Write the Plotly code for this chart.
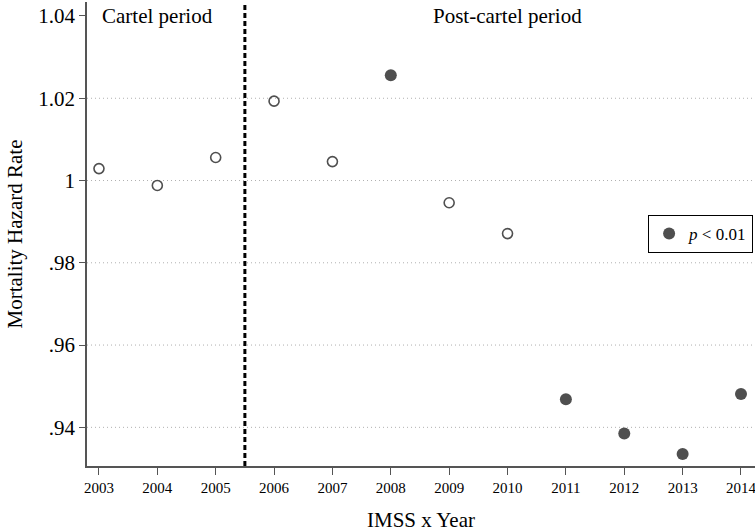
import plotly.graph_objects as go

years = [2003, 2004, 2005, 2006, 2007, 2008, 2009, 2010, 2011, 2012, 2013, 2014]
hazard = [1.0029, 0.9988, 1.0056, 1.0193, 1.0046, 1.0256, 0.9946, 0.9871,
          0.9468, 0.9385, 0.9335, 0.9481]
significant = [False, False, False, False, False, True, False, False,
               True, True, True, True]
cartel_end = 2005.5
ytick_vals = [0.94, 0.96, 0.98, 1.00, 1.02, 1.04]
ytick_text = [".94", ".96", ".98", "1", "1.02", "1.04"]
grid_vals = [0.94, 0.96, 0.98, 1.00, 1.02]
period_labels = ["Cartel period", "Post-cartel period"]
period_label_x = [2004, 2010]

FONT = "Liberation Serif, Times New Roman, serif"
DARK = "#4f4f4f"

x_ns = [x for x, s in zip(years, significant) if not s]
y_ns = [y for y, s in zip(hazard, significant) if not s]
x_s = [x for x, s in zip(years, significant) if s]
y_s = [y for y, s in zip(hazard, significant) if s]

fig = go.Figure()
fig.add_trace(go.Scatter(
    x=x_ns, y=y_ns, mode="markers", showlegend=False,
    marker=dict(symbol="circle-open", size=10, color=DARK, line=dict(width=1.6, color=DARK)),
))
fig.add_trace(go.Scatter(
    x=x_s, y=y_s, mode="markers", name="<i>p</i> < 0.01",
    marker=dict(symbol="circle", size=12, color=DARK),
))

for g in grid_vals:
    fig.add_shape(type="line", xref="paper", x0=0, x1=1, yref="y", y0=g, y1=g,
                  line=dict(color="#b0b0b0", width=1, dash="1px,3px"), layer="below")

fig.add_shape(type="line", xref="x", x0=cartel_end, x1=cartel_end, yref="paper", y0=0, y1=1,
              line=dict(color="black", width=3, dash="5px,3px"))

for lab, lx in zip(period_labels, period_label_x):
    fig.add_annotation(x=lx, y=1.04, xref="x", yref="y", text=lab, showarrow=False,
                       xanchor="center", yanchor="middle",
                       font=dict(family=FONT, size=21, color="black"))

fig.update_layout(
    width=755, height=532,
    margin=dict(l=87, r=0, t=2, b=66),
    paper_bgcolor="white", plot_bgcolor="white",
    font=dict(family=FONT, color="black"),
    showlegend=True,
    legend=dict(x=0.84, y=0.541, xanchor="left", yanchor="top",
                bordercolor="black", borderwidth=1, bgcolor="white",
                font=dict(family=FONT, size=17, color="black"),
                itemwidth=30, tracegroupgap=0),
)
fig.update_xaxes(
    range=[2002.795, 2014.24], tickvals=years, ticktext=[str(y) for y in years],
    showgrid=False, zeroline=False, showline=True, linecolor="#555", linewidth=1.5,
    ticks="outside", ticklen=7, tickcolor="#555", tickwidth=1.2,
    ticklabeloverflow="allow",
    tickfont=dict(family=FONT, size=15, color="black"),
    title=dict(text="IMSS x Year", font=dict(family=FONT, size=21, color="black"), standoff=22),
)
fig.update_yaxes(
    range=[0.9306, 1.0434], tickvals=ytick_vals, ticktext=ytick_text,
    showgrid=False, zeroline=False, showline=True, linecolor="#555", linewidth=1.5,
    ticks="outside", ticklen=6, tickcolor="#555", tickwidth=1.2,
    tickfont=dict(family=FONT, size=21, color="black"),
    title=dict(text="Mortality Hazard Rate", font=dict(family=FONT, size=21, color="black"), standoff=10),
)

fig.write_html("out.html")
